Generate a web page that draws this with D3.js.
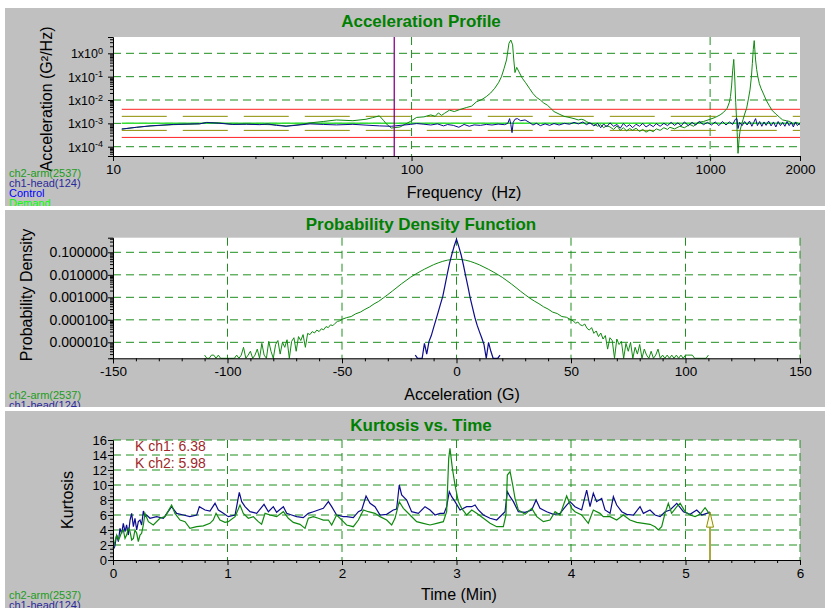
<!DOCTYPE html>
<html>
<head>
<meta charset="utf-8">
<script src="https://cdn.jsdelivr.net/npm/d3@7"></script>
<style>
body{margin:0;background:#fff;}
svg{display:block;font-family:"Liberation Sans",Arial,sans-serif;}
</style>
</head>
<body>
<div id="chart"></div>
<script>
// ---- acceleration profile (PSD) data ----
const psdFreqCh2 = [10.7,12,13.3,15.9,19.5,20.6,22.5,25.2,28,31,35.3,38,42,45.7,50.6,56,63.6,70.4,74,78,80.7,82,85.5,91.5,99,104,110,116,120,123,126,129,134,139,145,153,159,165,172,178,184,190,196,200,204,208,212,215,218,220,222,225,229,235,241,248,255,262,270,277,285,292,300,312,324,337,350,362,370,378,385,396,408,420,430,440,450,462,475,488,500,512,525,538,550,565,580,595,610,628,645,660,680,700,720,733,760,792,820,855,880,910,950,1000,1040,1080,1110,1140,1160,1170,1180,1190,1200,1210,1218,1225,1232,1240,1250,1260,1275,1290,1305,1325,1345,1360,1375,1385,1395,1405,1412,1420,1432,1445,1462,1480,1510,1540,1575,1610,1660,1710,1750,1800,1850,1900,1950,2000]
const psdCh2 = [5.7e-4,6.8e-4,7.7e-4,8.8e-4,9.5e-4,1.1e-3,1.05e-3,9.1e-4,9.4e-4,9.1e-4,
  8.6e-4,7.7e-4,8.8e-4,1.05e-3,1.2e-3,1.4e-3,1.3e-3,1.5e-3,1.75e-3,2.1e-3,
  1.3e-3,1.0e-3,6.3e-4,7e-4,1.2e-3,1.8e-3,1.9e-3,2.3e-3,2.0e-3,2.8e-3,
  2.2e-3,2.7e-3,3.7e-3,3.2e-3,3.9e-3,4.8e-3,5.5e-3,8.4e-3,1.05e-2,1.4e-2,
  2.0e-2,3.2e-2,5.8e-2,0.1,0.22,0.52,2.7,3.7,2.3,0.52,
  0.15,0.25,0.16,0.085,0.055,0.032,0.019,0.013,0.01,7.5e-3,
  6e-3,4.5e-3,3.2e-3,2.5e-3,2e-3,1.8e-3,1.6e-3,1.4e-3,1.5e-3,1.4e-3,
  1.2e-3,1.0e-3,9.5e-4,7.5e-4,8.8e-4,6.5e-4,8e-4,7e-4,5.5e-4,7.8e-4,
  5e-4,6.5e-4,4.8e-4,6e-4,5e-4,6.2e-4,4.5e-4,5.5e-4,4.2e-4,5.2e-4,
  4.4e-4,5.8e-4,5e-4,6.5e-4,5.5e-4,6.8e-4,5.8e-4,7.5e-4,6.5e-4,9e-4,
  7.5e-4,1.1e-3,1.2e-3,1.5e-3,1.8e-3,2.3e-3,3e-3,4.4e-3,8e-3,1.4e-2,
  4e-2,0.19,0.55,0.072,8e-3,1.9e-3,4e-4,5.2e-5,2e-4,5e-4,
  9e-4,1.5e-3,2.5e-3,4.4e-3,1.2e-2,2.7e-2,0.1,0.37,1.5,3.5,
  1.4,0.52,0.2,0.1,0.05,0.032,0.018,0.01,6e-3,3.7e-3,
  2.5e-3,1.8e-3,1.4e-3,1.3e-3,1.2e-3,9e-4,1.1e-3,8.5e-4]

const psdFreqCh1 = [10.7,12,13.3,15.9,19.5,20.6,22.5,25.2,28,31,33,35.3,38,42,45.7,50.6,56,63.6,70.4,78,85.5,91.5,99,104,110,116,122,128,132,138,144,150,156,162,170,178,186,195,205,210,213,215,217,219,222,226,232,240,248,255,262,270,280,290,300,312,325,338,350,362,375,385,396,408,420,430,440,450,462,475,488,500,512,525,538,550,565,580,595,610,628,645,660,680,700,720,740,760,780,800,820,845,870,895,920,950,980,1010,1040,1070,1100,1130,1160,1190,1215,1230,1240,1255,1280,1305,1330,1355,1380,1400,1420,1440,1465,1490,1515,1540,1570,1600,1630,1660,1690,1720,1750,1780,1810,1840,1870,1900,1930,1960,2000]
const psdCh1 = [5.7e-4,6.8e-4,7.8e-4,9e-4,9.6e-4,1.08e-3,1.02e-3,9e-4,9.2e-4,8.8e-4,
  9.4e-4,8.2e-4,7.5e-4,8.5e-4,9.5e-4,9e-4,8.6e-4,9.1e-4,8.4e-4,7.8e-4,
  7.5e-4,8.2e-4,9e-4,9.8e-4,9.2e-4,8.5e-4,9.5e-4,7.8e-4,8.9e-4,8.2e-4,
  6.8e-4,9e-4,7.5e-4,8.6e-4,8.2e-4,9e-4,8.5e-4,9.3e-4,8.8e-4,1.0e-3,
  1.6e-3,9e-4,4e-4,1.1e-3,1.5e-3,1.6e-3,1.3e-3,1.4e-3,1.1e-3,8.5e-4,
  1.0e-3,8e-4,9.5e-4,8.2e-4,9.8e-4,8.5e-4,1.0e-3,9.2e-4,1.1e-3,9.5e-4,
  1.15e-3,8.8e-4,1.05e-3,7.8e-4,1.0e-3,6.5e-4,9.5e-4,7e-4,1.05e-3,7.5e-4,
  9e-4,6.2e-4,9.8e-4,7.2e-4,8.8e-4,6.5e-4,9.2e-4,7.5e-4,1.0e-3,7e-4,
  9e-4,7.2e-4,9.8e-4,7.5e-4,1.0e-3,8e-4,1.1e-3,8.2e-4,1.05e-3,7.8e-4,
  1.15e-3,8e-4,1.1e-3,8.5e-4,1.2e-3,8.8e-4,1.1e-3,8.5e-4,1.15e-3,8e-4,
  1.2e-3,8.5e-4,1.15e-3,9e-4,1.5e-3,1.6e-3,6e-4,1.1e-3,8e-4,1.2e-3,
  8.5e-4,1.25e-3,7.5e-4,1.1e-3,1.6e-3,8e-4,1.2e-3,7.5e-4,1.15e-3,8.2e-4,
  1.25e-3,7.8e-4,1.15e-3,7e-4,1.2e-3,8e-4,1.1e-3,7.5e-4,1.2e-3,8e-4,
  1.1e-3,7e-4,1.15e-3,8e-4,1.05e-3]

// demand and tolerance levels (G^2/Hz)
const profileFreq = [10.7, 2000]
const demandLevel = [1e-3, 1e-3]
const alarmHigh = [2e-3, 2e-3]
const alarmLow = [5e-4, 5e-4]
const abortHigh = [4e-3, 4e-3]
const abortLow = [2.5e-4, 2.5e-4]
const markerFreq = 87.5

const psdXTicks = [10, 100, 1000, 2000]
const psdXMinor = [20,30,40,50,60,70,80,90,200,300,400,500,600,700,800,900]
const psdYTicks = [1, 0.1, 0.01, 0.001, 0.0001]

// ---- probability density data ----
const pdfAccelCh2 = [-110,-109,-108,-107,-106,-105,-104,-103,-102,-101,-100,-99,-98,-97,-96,-95,-94,-93,-92,-91,-90,-89,-88,-87,-86,-85,-84,-83,-82,-81,-80,-79,-78,-77,-76,-75,-74,-73,-72,-71,-70,-69,-68,-67,-66,-65,-64,-63,-62,-61,-60,-59,-58,-57,-56,-55,-54,-53,-52,-51,
  -50,-48,-46,-44,-42,-40,-38,-36,-34,-32,-30,-28,-26,-24,-22,-20,-18,-16,-14,-12,-10,-8,-6,-4,-2,0,2,4,6,8,10,12,14,16,18,20,22,24,26,28,30,32,34,36,38,40,42,44,46,48,50,
  51,52,53,54,55,56,57,58,59,60,61,62,63,64,65,66,67,68,69,70,71,72,73,74,75,76,77,78,79,80,81,82,83,84,85,86,87,88,89,90,91,92,93,94,95,96,97,98,99,100,101,102,103,104,105,106,107,108,109,110]
const pdfCh2 = [2.7e-6,0,0,2.7e-6,2.7e-6,0,2.7e-6,0,0,0,0,0,0,0,2.7e-6,0,2.7e-6,6e-6,0,2.7e-6,
  4e-6,0,2.7e-6,5e-6,0,9e-6,2.7e-6,0,1.1e-5,4e-6,0,8e-6,1.2e-5,3e-6,1e-5,6e-6,1.3e-5,0,1.1e-5,1.6e-5,
  4e-6,1.8e-5,1.2e-5,2.2e-5,6e-6,2.5e-5,2.2e-5,3e-5,2.6e-5,3.5e-5,3e-5,4e-5,3.6e-5,5e-5,4.5e-5,6e-5,5.5e-5,7e-5,8.5e-5,9e-5,
  1.05e-4,1.25e-4,1.4e-4,1.85e-4,2.2e-4,2.9e-4,3.7e-4,5.1e-4,6.6e-4,9.3e-4,1.32e-3,1.9e-3,2.75e-3,4.0e-3,5.6e-3,7.9e-3,1.05e-2,1.38e-2,1.78e-2,2.24e-2,2.82e-2,3.39e-2,3.98e-2,4.47e-2,4.8e-2,
  4.9e-2,
  4.8e-2,4.45e-2,3.95e-2,3.35e-2,2.78e-2,2.2e-2,1.75e-2,1.35e-2,1.03e-2,7.7e-3,5.5e-3,3.9e-3,2.7e-3,1.85e-3,1.3e-3,9.2e-4,6.8e-4,5.2e-4,3.8e-4,3.0e-4,2.2e-4,1.9e-4,1.4e-4,1.3e-4,1.0e-4,
  9e-5,7e-5,8e-5,6e-5,5.5e-5,6.5e-5,4.2e-5,3.5e-5,4.5e-5,2.5e-5,3.2e-5,1.8e-5,2.6e-5,1.4e-5,2e-5,5e-6,1.6e-5,1.2e-5,0,1.4e-5,
  8e-6,1.1e-5,0,9e-6,4e-6,1e-5,0,6e-6,3e-6,8e-6,0,5e-6,2.7e-6,0,4e-6,0,2.7e-6,5e-6,0,2.7e-6,
  0,2.7e-6,0,2.7e-6,0,2.7e-6,0,2.7e-6,0,2.7e-6,2.7e-6,2.7e-6,2.7e-6,0,0,0,0,0,0,2.7e-6]
const pdfAccelCh1 = [-18,-17,-16,-15,-14,-13,-12,-11,-10,-9,-8,-7,-6,-5,-4,-3,-2,-1,0,1,2,3,4,5,6,7,8,9,10,11,12,13,14,15,16,17,18,19]
const pdfCh1 = [2.7e-6,0,0,0,9e-6,3e-6,1.1e-5,2e-5,4.5e-5,1e-4,2.2e-4,5e-4,1.1e-3,3.5e-3,1.12e-2,3.4e-2,8.3e-2,0.19,0.38,
  0.18,0.078,0.028,9e-3,3e-3,9.3e-4,3.5e-4,1.3e-4,5.8e-5,3e-5,1.6e-5,8e-6,0,1e-5,4e-6,0,0,0,2.7e-6]

const pdfXTicks = [-150,-100,-50,0,50,100,150]
const pdfXMinor = [-140,-130,-120,-110,-90,-80,-70,-60,-40,-30,-20,-10,10,20,30,40,60,70,80,90,110,120,130,140]
const pdfYTicks = [0.1, 0.01, 0.001, 0.0001, 0.00001]

// ---- kurtosis vs time data ----
const ch1Time = [0,0.015,0.032,0.047,0.061,0.076,0.09,0.105,0.119,0.134,0.149,0.163,0.178,0.192,0.207,0.221,0.236,0.25,0.265,0.279,0.294,0.323,0.381,0.44,0.512,0.556,0.614,0.672,0.731,0.754,0.804,0.847,0.891,0.92,0.964,1.007,1.066,1.103,1.124,1.153,1.197,1.255,1.319,1.357,1.4,1.429,1.488,1.517,1.56,1.604,1.662,1.706,1.75,1.793,1.837,1.881,1.91,1.953,2.012,2.04,2.099,2.143,2.172,2.21,2.245,2.288,2.332,2.39,2.448,2.477,2.5,2.521,2.565,2.608,2.667,2.725,2.769,2.812,2.856,2.891,2.914,2.937,2.958,2.987,3.031,3.089,3.133,3.162,3.191,3.235,3.293,3.351,3.395,3.424,3.444,3.468,3.497,3.54,3.599,3.657,3.695,3.729,3.788,3.846,3.904,3.962,3.991,4.035,4.093,4.137,4.166,4.195,4.224,4.268,4.297,4.341,4.37,4.399,4.443,4.486,4.545,4.603,4.632,4.69,4.734,4.778,4.822,4.865,4.924,4.982,5.04,5.098,5.142,5.185,5.214]
const ch1Kurt = [1.33,1.78,3.33,2.44,4.22,3.56,4.89,3.78,4.67,3.33,5.33,6.22,4.44,5.56,4.0,5.11,5.33,4.67,6.53,5.78,6.0,5.56,5.78,5.56,7.11,6.22,6.0,5.78,6.0,7.11,6.67,6.53,7.56,6.67,6.22,5.78,6.0,9.02,7.78,7.11,6.44,6.22,7.42,6.44,7.11,6.36,7.11,6.22,6.0,5.78,5.64,6.22,6.44,6.67,6.89,7.78,7.11,6.0,5.78,5.78,5.64,6.44,6.67,8.53,7.56,7.11,6.0,6.09,6.67,6.8,10.0,8.67,8.0,6.44,6.22,7.11,6.67,6.0,6.22,6.22,7.11,9.11,8.44,7.78,6.67,7.11,7.11,7.33,6.67,6.0,5.56,5.33,6.0,6.44,9.11,8.44,7.78,6.44,6.36,6.67,8.0,6.89,6.44,6.09,6.22,7.33,7.78,7.11,6.67,9.33,7.11,8.89,7.78,8.22,6.67,6.22,8.44,7.33,6.44,6.09,6.0,7.11,6.22,6.67,6.0,5.78,6.44,6.67,7.56,6.44,6.09,6.67,6.0,6.22,6.38]
const ch2Time = [0,0.017,0.032,0.047,0.061,0.076,0.09,0.105,0.119,0.134,0.149,0.163,0.178,0.192,0.207,0.221,0.236,0.25,0.265,0.279,0.309,0.352,0.41,0.454,0.512,0.541,0.585,0.629,0.672,0.731,0.789,0.847,0.876,0.9,0.934,0.978,1.007,1.066,1.109,1.138,1.182,1.226,1.269,1.298,1.328,1.371,1.429,1.488,1.531,1.575,1.633,1.677,1.706,1.75,1.793,1.837,1.881,1.91,1.953,2.012,2.04,2.099,2.143,2.187,2.23,2.288,2.332,2.39,2.434,2.463,2.5,2.536,2.594,2.652,2.71,2.769,2.827,2.885,2.914,2.932,2.943,2.964,2.987,3.016,3.045,3.089,3.133,3.176,3.235,3.293,3.351,3.409,3.432,3.444,3.468,3.491,3.511,3.54,3.599,3.657,3.701,3.759,3.817,3.861,3.904,3.962,4.006,4.035,4.093,4.151,4.195,4.253,4.282,4.341,4.399,4.457,4.515,4.574,4.632,4.69,4.734,4.763,4.792,4.821,4.85,4.879,4.924,4.953,4.997,5.04,5.084,5.127,5.171,5.2,5.214]
const ch2Kurt = [1.56,2.44,3.33,2.67,3.11,3.78,4.0,2.89,3.33,4.22,3.78,2.67,2.89,4.0,3.56,2.44,3.33,3.56,4.67,6.22,5.11,4.67,5.56,5.78,7.33,6.22,5.33,5.11,4.22,4.44,4.56,4.89,5.33,6.22,5.33,5.02,5.11,5.78,7.33,6.22,5.56,5.78,5.11,4.76,6.22,6.0,5.78,6.44,5.56,5.02,4.76,4.22,5.56,5.78,5.56,5.33,5.33,4.67,6.0,5.11,4.67,4.44,5.33,6.67,6.44,6.22,5.78,5.33,4.67,5.56,7.78,6.89,6.0,5.11,4.89,4.67,4.89,5.11,6.44,13.56,14.89,12.22,10.0,7.78,6.89,6.0,6.67,6.22,5.56,4.89,4.44,4.44,6.0,11.33,11.78,10.0,8.22,6.67,6.09,6.89,5.78,5.11,5.33,6.44,6.0,8.53,6.89,6.44,6.0,4.89,6.67,6.22,5.78,5.78,5.33,6.0,5.33,5.02,4.89,4.76,4.44,4.0,4.44,6.22,7.56,6.22,7.11,7.56,6.44,6.0,5.78,6.09,6.98,6.36,5.98]

const kurtXTicks = [0,1,2,3,4,5,6]
const kurtXMinor = [0.2,0.4,0.6,0.8,1.2,1.4,1.6,1.8,2.2,2.4,2.6,2.8,3.2,3.4,3.6,3.8,4.2,4.4,4.6,4.8,5.2,5.4,5.6,5.8]
const kurtYTicks = [0,2,4,6,8,10,12,14,16]
const kurtYMinor = [0.5,1,1.5,2.5,3,3.5,4.5,5,5.5,6.5,7,7.5,8.5,9,9.5,10.5,11,11.5,12.5,13,13.5,14.5,15,15.5]

const legendChannels = ["ch2-arm(2537)", "ch1-head(124)"]

// ---- layout ----
const svg = d3.select("#chart").append("svg").attr("width", 825).attr("height", 608)
const plotLeft = 113, plotRight = 800
const fontFam = '"Liberation Sans", Arial, sans-serif'
const gridColor = "#1f8f1f"
const ch1Color = "#0c0c8c"
const ch2Color = "#0f8a0f"

function translate(x, y){ return `translate(${x}, ${y})` }
function pair(xs, ys){ return xs.map((x, i) => [x, ys[i]]) }

function makePanel(id, top, bottom){
    svg.append("clipPath").attr("id", "clip-" + id)
        .append("rect").attr("x", 5).attr("y", top).attr("width", 820).attr("height", bottom - top)
    const g = svg.append("g").attr("id", id).attr("clip-path", `url(#clip-${id})`)
    g.append("rect").attr("x", 5).attr("y", top).attr("width", 820).attr("height", bottom - top).attr("fill", "#c0c0c0")
    return g
}

function plotBox(g, top, bottom){
    g.append("rect").attr("x", plotLeft).attr("y", top).attr("width", plotRight - plotLeft)
        .attr("height", bottom - top).attr("fill", "#fff")
}

function hGrid(g, y, values){
    g.append("g").selectAll("line").data(values).join("line")
        .attr("x1", plotLeft).attr("x2", plotRight)
        .attr("y1", d => y(d)).attr("y2", d => y(d))
        .attr("stroke", gridColor).attr("stroke-dasharray", "8,5")
}

function vGrid(g, x, values, top, bottom){
    g.append("g").selectAll("line").data(values).join("line")
        .attr("x1", d => x(d)).attr("x2", d => x(d))
        .attr("y1", top).attr("y2", bottom)
        .attr("stroke", gridColor).attr("stroke-dasharray", "8,5")
}

function styleAxis(sel, size){
    sel.attr("font-family", fontFam).attr("font-size", size)
    sel.selectAll("path.domain").attr("stroke", "#000")
    sel.selectAll("line").attr("stroke", "#000")
    sel.selectAll("text").attr("fill", "#000")
}

function minorAxis(g, axis){
    const a = g.call(axis.tickSize(3).tickFormat(""))
    a.select("path.domain").remove()
    a.selectAll("line").attr("stroke", "#000")
}

function title(g, text, y){
    g.append("text").attr("x", 421).attr("y", y).attr("text-anchor", "middle")
        .attr("font-size", 17).attr("font-weight", "bold").attr("fill", "#008000").text(text)
}

function axisTitleX(g, text, x, y){
    g.append("text").attr("x", x).attr("y", y).attr("text-anchor", "middle")
        .attr("font-size", 16).attr("fill", "#000").style("white-space", "pre").text(text)
}

function axisTitleY(g, text, x, y, size){
    g.append("text").attr("transform", `translate(${x},${y}) rotate(-90)`).attr("text-anchor", "middle")
        .attr("font-size", size).attr("fill", "#000").text(text)
}

function legend(g, items, y0){
    g.append("g").selectAll("text").data(items).join("text")
        .attr("x", 9).attr("y", (d, i) => y0 + i * 10)
        .attr("font-size", 11).attr("fill", d => d.color).text(d => d.label)
}

// ================= Panel 1: Acceleration Profile =================
const p1 = makePanel("psd", 8, 206)
const psdTop = 37, psdBottom = 156
plotBox(p1, psdTop, psdBottom)
const xPsd = d3.scaleLog().domain([10, 2000]).range([plotLeft, plotRight])
const yPsd = d3.scaleLog().domain([4e-5, 5]).range([psdBottom, psdTop]).clamp(true)

hGrid(p1, yPsd, psdYTicks)
vGrid(p1, xPsd, [100, 1000], psdTop, psdBottom)

const psdLine = d3.line().x(d => xPsd(d[0])).y(d => yPsd(d[1]))
p1.append("path").datum(pair(profileFreq, demandLevel)).attr("d", psdLine)
    .attr("fill", "none").attr("stroke", "#33e033").attr("stroke-width", 1.5)
;[abortHigh, abortLow].forEach(lv => {
    p1.append("path").datum(pair(profileFreq, lv)).attr("d", psdLine)
        .attr("fill", "none").attr("stroke", "#ff2020").attr("stroke-width", 1)
})
;[alarmHigh, alarmLow].forEach(lv => {
    p1.append("path").datum(pair(profileFreq, lv)).attr("d", psdLine)
        .attr("fill", "none").attr("stroke", "#8c8c00").attr("stroke-width", 1).attr("stroke-dasharray", "45,16")
})

const psdPlot = p1.append("g")
psdPlot.append("path").datum(pair(psdFreqCh2, psdCh2)).attr("d", psdLine)
    .attr("fill", "none").attr("stroke", ch2Color).attr("stroke-width", 1)
psdPlot.append("path").datum(pair(psdFreqCh1, psdCh1)).attr("d", psdLine)
    .attr("fill", "none").attr("stroke", ch1Color).attr("stroke-width", 1)

p1.append("line").attr("x1", xPsd(markerFreq)).attr("x2", xPsd(markerFreq))
    .attr("y1", psdTop).attr("y2", psdBottom).attr("stroke", "#8b008b").attr("stroke-width", 1.3)

// axes
const psdMinorY = []
psdYTicks.concat([10]).forEach(dec => { for (let m = 2; m <= 9; m++) { const v = dec * m / 10; if (v >= 4e-5 && v <= 5) psdMinorY.push(v) } })
minorAxis(p1.append("g").attr("transform", translate(plotLeft, 0)), d3.axisLeft(yPsd).tickValues(psdMinorY))
minorAxis(p1.append("g").attr("transform", translate(0, psdBottom)), d3.axisBottom(xPsd).tickValues(psdXMinor))

const psdYAxis = p1.append("g").attr("transform", translate(plotLeft, 0))
    .call(d3.axisLeft(yPsd).tickValues(psdYTicks).tickSize(5).tickPadding(5).tickFormat(""))
styleAxis(psdYAxis, 12.5)
psdYAxis.selectAll(".tick text").each(function(d){
    const t = d3.select(this).attr("dy", "0.36em")
    t.append("tspan").text("1x10")
    t.append("tspan").attr("dy", "-0.5em").attr("font-size", 9).text(Math.round(Math.log10(d)))
})
const psdXAxis = p1.append("g").attr("transform", translate(0, psdBottom))
    .call(d3.axisBottom(xPsd).tickValues(psdXTicks).tickSize(5).tickPadding(3).tickFormat(d => String(d)))
styleAxis(psdXAxis, 13.5)

title(p1, "Acceleration Profile", 27)
axisTitleX(p1, "Frequency  (Hz)", 464, 198)
axisTitleY(p1, "Acceleration (G²/Hz)", 52, 99, 16)
legend(p1, [
    {label: legendChannels[0], color: "#1c9c1c"},
    {label: legendChannels[1], color: "#2a2a9a"},
    {label: "Control", color: "#0000ff"},
    {label: "Demand", color: "#00ff00"}
], 177)

// ================= Panel 2: Probability Density Function =================
const p2 = makePanel("pdf", 210, 407)
const pdfTop = 237.7, pdfBottom = 358.3
plotBox(p2, pdfTop, pdfBottom)
const xPdf = d3.scaleLinear().domain([-150, 150]).range([plotLeft, plotRight])
const yPdf = d3.scaleLog().domain([1.95e-6, 0.446]).range([pdfBottom, pdfTop]).clamp(true)

hGrid(p2, yPdf, pdfYTicks)
vGrid(p2, xPdf, [-100, -50, 0, 50, 100, 150], pdfTop, pdfBottom)

const pdfLine = d3.line().x(d => xPdf(d[0])).y(d => yPdf(d[1]))
p2.append("path").datum(pair(pdfAccelCh2, pdfCh2)).attr("d", pdfLine)
    .attr("fill", "none").attr("stroke", ch2Color).attr("stroke-width", 1)
p2.append("path").datum(pair(pdfAccelCh1, pdfCh1)).attr("d", pdfLine)
    .attr("fill", "none").attr("stroke", ch1Color).attr("stroke-width", 1.2)

const pdfMinorY = []
pdfYTicks.concat([1]).forEach(dec => { for (let m = 2; m <= 9; m++) { const v = dec * m / 10; if (v >= 1.95e-6 && v <= 0.446) pdfMinorY.push(v) } })
minorAxis(p2.append("g").attr("transform", translate(plotLeft, 0)), d3.axisLeft(yPdf).tickValues(pdfMinorY))
minorAxis(p2.append("g").attr("transform", translate(0, pdfBottom)), d3.axisBottom(xPdf).tickValues(pdfXMinor))
const pdfYAxis = p2.append("g").attr("transform", translate(plotLeft, 0))
    .call(d3.axisLeft(yPdf).tickValues(pdfYTicks).tickSize(5).tickPadding(0).tickFormat(d3.format(".6f")))
styleAxis(pdfYAxis, 14)
const pdfXAxis = p2.append("g").attr("transform", translate(0, pdfBottom))
    .call(d3.axisBottom(xPdf).tickValues(pdfXTicks).tickSize(5).tickPadding(3).tickFormat(d => String(d)))
styleAxis(pdfXAxis, 13.5)

title(p2, "Probability Density Function", 230)
axisTitleX(p2, "Acceleration (G)", 462, 400)
axisTitleY(p2, "Probability Density", 32, 295, 16)
legend(p2, [
    {label: legendChannels[0], color: "#1c9c1c"},
    {label: legendChannels[1], color: "#2a2a9a"}
], 399)

// ================= Panel 3: Kurtosis vs. Time =================
const p3 = makePanel("kurt", 411, 612)
const kTop = 440, kBottom = 560
plotBox(p3, kTop, kBottom)
const xK = d3.scaleLinear().domain([0, 6]).range([plotLeft, plotRight])
const yK = d3.scaleLinear().domain([0, 16]).range([kBottom, kTop])

hGrid(p3, yK, kurtYTicks.filter(d => d > 0))
vGrid(p3, xK, kurtXTicks.filter(d => d > 0), kTop, kBottom)

const kLine = d3.line().x(d => xK(d[0])).y(d => yK(d[1]))
p3.append("path").datum(pair(ch1Time, ch1Kurt)).attr("d", kLine)
    .attr("fill", "none").attr("stroke", ch1Color).attr("stroke-width", 1.2)
p3.append("path").datum(pair(ch2Time, ch2Kurt)).attr("d", kLine)
    .attr("fill", "none").attr("stroke", ch2Color).attr("stroke-width", 1.2)

// current position arrow
const tNow = ch1Time[ch1Time.length - 1]
const tipY = yK(ch1Kurt[ch1Kurt.length - 1])
p3.append("line").attr("x1", xK(tNow)).attr("x2", xK(tNow)).attr("y1", tipY + 15).attr("y2", kBottom)
    .attr("stroke", "#8c8c00").attr("stroke-width", 1.5)
p3.append("path")
    .attr("d", `M${xK(tNow)},${tipY} L${xK(tNow) + 3.5},${tipY + 15} L${xK(tNow) - 3.5},${tipY + 15} Z`)
    .attr("fill", "#ffffe8").attr("stroke", "#8c8c00").attr("stroke-width", 1)

minorAxis(p3.append("g").attr("transform", translate(plotLeft, 0)), d3.axisLeft(yK).tickValues(kurtYMinor))
minorAxis(p3.append("g").attr("transform", translate(0, kBottom)), d3.axisBottom(xK).tickValues(kurtXMinor))
const kYAxis = p3.append("g").attr("transform", translate(plotLeft, 0))
    .call(d3.axisLeft(yK).tickValues(kurtYTicks).tickSize(5).tickPadding(1).tickFormat(d => String(d)))
styleAxis(kYAxis, 13)
const kXAxis = p3.append("g").attr("transform", translate(0, kBottom))
    .call(d3.axisBottom(xK).tickValues(kurtXTicks).tickSize(5).tickPadding(3).tickFormat(d => String(d)))
styleAxis(kXAxis, 13.5)

const fmt2 = d3.format(".2f")
p3.append("text").attr("x", 135).attr("y", 451).attr("font-size", 14).attr("fill", "#a02828")
    .text(`K ch1: ${fmt2(ch1Kurt[ch1Kurt.length - 1])}`)
p3.append("text").attr("x", 135).attr("y", 468).attr("font-size", 14).attr("fill", "#a02828")
    .text(`K ch2: ${fmt2(ch2Kurt[ch2Kurt.length - 1])}`)

title(p3, "Kurtosis vs. Time", 431)
axisTitleX(p3, "Time (Min)", 459, 600)
axisTitleY(p3, "Kurtosis", 73, 500, 16)
legend(p3, [
    {label: legendChannels[0], color: "#1c9c1c"},
    {label: legendChannels[1], color: "#2a2a9a"}
], 599)
</script>
</body>
</html>
